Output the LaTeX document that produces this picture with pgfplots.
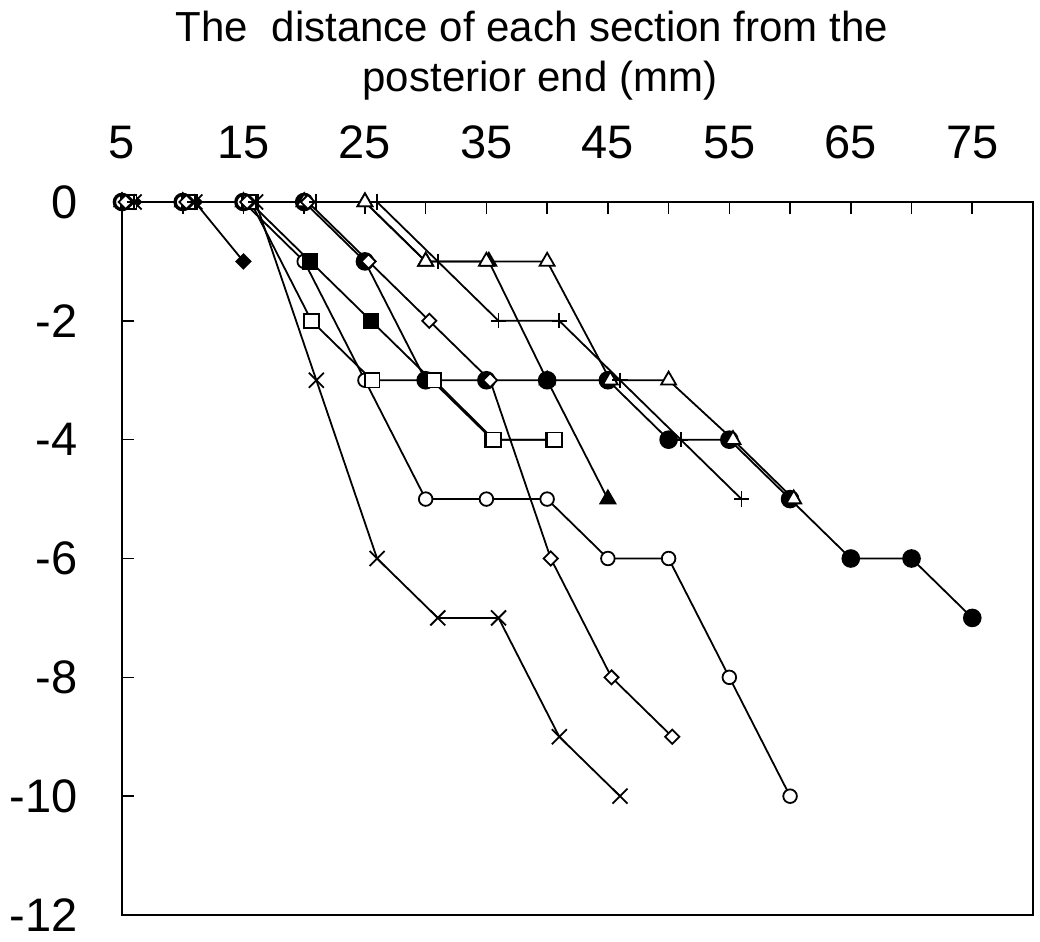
\documentclass[border=0pt]{standalone}
\usepackage{fontspec}
\setmainfont{Liberation Sans}
\usepackage{pgfplots}
\pgfplotsset{compat=1.18}
\usetikzlibrary{calc}
\begin{document}
\begin{tikzpicture}
\begin{axis}[
 name=ax,
 width=455.5bp, height=356.5bp, scale only axis,
 xmin=5, xmax=80, ymin=-12, ymax=0,
 axis line style={line width=1bp},
 xtick={5,15,...,75}, minor xtick={10,20,...,80},
 ytick={-12,-10,...,0}, yticklabels={-12,-10,-8,-6,-4,-2,0},
 xtick pos=upper, xticklabel pos=upper, ytick pos=left,
 tick align=inside,
 major tick length=6bp, minor tick length=6bp,
 every tick/.style={line width=0.8bp, black},
 tick label style={font=\fontsize{23.5bp}{28bp}\selectfont},
 /pgf/number format/assume math mode=true,
 yticklabel style={inner sep=0pt, anchor=east, xshift=-22bp},
 xticklabel style={inner sep=0pt, anchor=south, yshift=21.5bp},
 clip=false,
 every axis plot/.append style={line width=0.9bp, black},
]
% filled diamond
\addplot[mark=square*, mark size=2.5bp, mark options={rotate=45, fill=black, solid}] coordinates {(6,0) (11,0) (15,-1)};
% filled circle
\addplot[mark=*, mark size=4.2bp, mark options={fill=black}] coordinates {(5,0) (10,0) (15,0) (20,0) (25,-1) (30,-3) (35,-3) (40,-3) (45,-3) (50,-4) (55,-4) (60,-5) (65,-6) (70,-6) (75,-7)};
% filled triangle
\addplot[mark=triangle*, mark size=4.3bp, mark options={fill=black}] coordinates {(5,0) (10,0) (15,0) (20,0) (25,0) (30,-1) (35.2,-1) (40,-3) (45,-5)};
% open triangle
\addplot[mark=triangle*, mark size=4.3bp, mark options={fill=white}] coordinates {(5,0) (10,0) (15,0) (20,0) (25,0) (30,-1) (35,-1) (40,-1) (45.2,-3) (50,-3) (55.3,-4) (60.3,-5)};
% open circle
\addplot[mark=*, mark size=3.4bp, mark options={fill=white}] coordinates {(5,0) (10,0) (15,0) (20,-1) (25,-3) (30,-5) (35,-5) (40,-5) (45,-6) (50,-6) (55,-8) (60,-10)};
% filled square
\addplot[mark=square*, mark size=3.6bp, mark options={fill=black}] coordinates {(5.5,0) (10.5,0) (15.5,0) (20.5,-1) (25.5,-2) (30.5,-3) (35.5,-4) (40.5,-4)};
% open square
\addplot[mark=square*, mark size=3.6bp, mark options={fill=white}] coordinates {(5.6,0) (10.6,0) (15.6,0) (20.6,-2) (25.6,-3) (30.7,-3) (35.6,-4) (40.6,-4)};
% open diamond
\addplot[mark=square*, mark size=2.5bp, mark options={rotate=45, fill=white}] coordinates {(5.3,0) (10.3,0) (15.3,0) (20.3,0) (25.3,-1) (30.3,-2) (35.3,-3) (40.3,-6) (45.3,-8) (50.3,-9)};
% cross
\addplot[mark=x, mark size=5.3bp] coordinates {(6,0) (11,0) (16,0) (21,-3) (26,-6) (31,-7) (36,-7) (41,-9) (46,-10)};
% plus
\addplot[mark=+, mark size=3.8bp] coordinates {(6,0) (11,0) (16,0) (21,0) (26,0) (31,-1) (36,-2) (41,-2) (46,-3) (51,-4) (56,-5)};
\end{axis}
\node[anchor=base, inner sep=0pt, font=\fontsize{21bp}{25bp}\selectfont] at ($(ax.north west)+(205bp,80bp)$) {The\ \ distance of each section from the};
\node[anchor=base, inner sep=0pt, font=\fontsize{21bp}{25bp}\selectfont] at ($(ax.north west)+(209bp,55bp)$) {posterior end (mm)};
\pgfresetboundingbox
\path ($(ax.south west)+(-61bp,-13bp)$) rectangle ($(ax.north east)+(3.5bp,101bp)$);
\end{tikzpicture}
\end{document}
